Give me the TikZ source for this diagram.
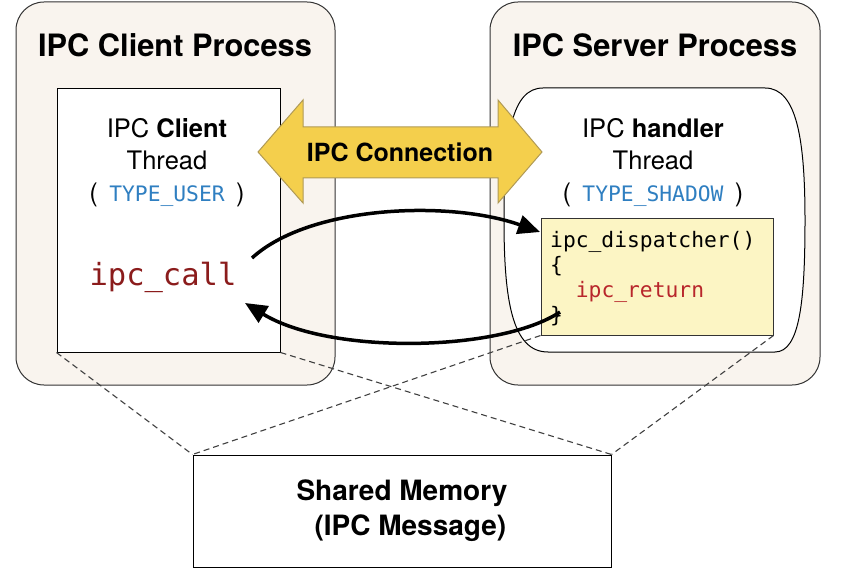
\documentclass[tikz,border=0pt]{standalone}
\usepackage{fontspec}
\setmainfont{TeX Gyre Heros}
\newfontfamily\codefont{DejaVu Sans Mono}
\usetikzlibrary{arrows.meta}
\definecolor{procfill}{HTML}{F9F4EE}
\definecolor{codefill}{HTML}{FCF5C4}
\definecolor{arrowfill}{HTML}{F4CF4C}
\definecolor{arrowline}{HTML}{B09A55}
\definecolor{typeblue}{HTML}{2F7FC1}
\definecolor{calldark}{HTML}{8B1C1C}
\definecolor{retred}{HTML}{B8262B}
\tikzset{
  procbox/.style={draw=black!80, line width=1pt, fill=procfill, rounded corners=28pt, inner sep=0pt},
  threadbox/.style={draw=black, line width=1pt, fill=white, inner sep=0pt},
  txt/.style={inner sep=0pt},
  title/.style={txt, font=\bfseries\fontsize{30.8}{36}\selectfont},
  threadtxt/.style={txt, align=center, font=\fontsize{25.5}{32}\selectfont},
  mono/.style={font=\codefont\fontsize{21.3}{25}\selectfont},
  dashline/.style={draw=black!75, line width=1.1pt, dash pattern=on 6pt off 4pt},
  flow/.style={draw=black, line width=3.5pt, -{Triangle[length=22pt,width=19pt]}},
}
\begin{document}
\begin{tikzpicture}[x=1pt,y=-1pt]
\useasboundingbox (0,0) rectangle (851,569);
% process boxes
\node[procbox, minimum width=319pt, minimum height=383pt] (cp) at (175.5,193.5) {};
\node[procbox, minimum width=330pt, minimum height=383pt] (sp) at (655,193.5) {};
\node[title] (cpt) at (175,45) {IPC Client Process};
\node[title] (spt) at (655,45) {IPC Server Process};
% client thread
\node[threadbox, minimum width=223pt, minimum height=263pt] (ct) at (168.5,220.5) {};
\node[threadtxt] (ctt) at (167,163) {IPC \textbf{Client}\\Thread\\(\, {\codefont\fontsize{21.3}{25}\selectfont\color{typeblue}TYPE\_USER} \,)};
\node[txt, font=\codefont\fontsize{30.5}{36}\selectfont, text=calldark] (call) at (163,277) {ipc\_call};
% server thread
\path[draw=black, line width=1pt, fill=white]
  (543,88) -- (765,88) .. controls (797,88) and (805,140) .. (805,220)
  .. controls (805,300) and (800,352) .. (775,352) -- (548,352)
  .. controls (512,352) and (504,300) .. (504,220)
  .. controls (504,135) and (512,88) .. (543,88) -- cycle;
\node[threadtxt] (stt) at (653,163) {IPC \textbf{handler}\\Thread\\(\, {\codefont\fontsize{21.3}{25}\selectfont\color{typeblue}TYPE\_SHADOW} \,)};
% code box
\node[draw=black!80, line width=1pt, fill=codefill, minimum width=232pt, minimum height=116pt, inner sep=0pt] (disp) at (657,277) {};
\node[txt, mono, align=left, anchor=north west] (code) at (550,231) {ipc\_dispatcher()\\\{\\\phantom{xx}\textcolor{retred}{ipc\_return}\\\}};
% shared memory
\node[draw=black, line width=1pt, fill=white, minimum width=418pt, minimum height=112pt, inner sep=0pt, align=center, font=\bfseries\fontsize{28}{35}\selectfont] (sm) at (402,511) {Shared Memory\\\hspace*{0.6em}(IPC Message)};
% dashed mapping lines
\draw[dashline] (ct.south west) -- (sm.north west);
\draw[dashline] (ct.south east) -- (sm.north east);
\draw[dashline] (disp.south west) -- (sm.north west);
\draw[dashline] (disp.south east) -- (sm.north east);
% IPC connection double arrow
\path[fill=arrowfill, draw=arrowline, line width=1pt, line join=miter]
  (258,152) -- (303,100) -- (303,127) -- (498,127) -- (498,100) -- (542,152)
  -- (498,203) -- (498,178) -- (303,178) -- (303,203) -- cycle;
\node[txt, font=\bfseries\fontsize{25}{30}\selectfont] (conn) at (400,152) {IPC Connection};
% call / return arrows
\coordinate (callout) at (252,258);
\coordinate (dispin) at (540,232);
\coordinate (retout) at (560,312);
\coordinate (callin) at (245,303);
\draw[flow] (callout) .. controls (310,205) and (450,200) .. (dispin);
\draw[flow] (retout) .. controls (500,352) and (330,355) .. (callin);
\end{tikzpicture}
\end{document}
